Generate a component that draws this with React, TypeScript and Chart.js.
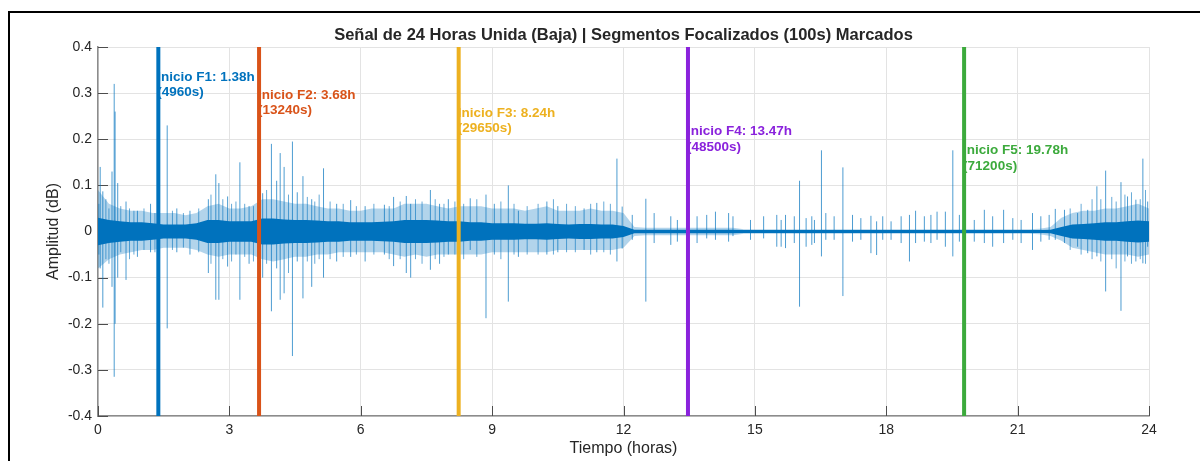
import { useEffect, useRef } from "react";
import { Chart, registerables } from "chart.js";

Chart.register(...registerables);

const FONT = "'Liberation Sans', Arial, Helvetica, sans-serif";
const TEXT_COLOR = "#262626";
const SIGNAL_COLOR = "#0072BD";

const TITLE = "Señal de 24 Horas Unida (Baja) | Segmentos Focalizados (100s) Marcados";
const X_TITLE = "Tiempo (horas)";
const Y_TITLE = "Amplitud (dB)";

// Envelope of the joined 24 h signal, one value every quarter hour (0 … 24 h)
const BAND_STEP_HOURS = 0.25;
const coreAmp = [
  0.030, 0.025, 0.022, 0.020, // 0 h
  0.020, 0.018, 0.015, 0.015, // 1 h
  0.015, 0.018, 0.025, 0.025, // 2 h
  0.022, 0.022, 0.022, 0.028, // 3 h
  0.028, 0.026, 0.025, 0.025, // 4 h
  0.024, 0.022, 0.022, 0.020, // 5 h
  0.020, 0.020, 0.021, 0.022, // 6 h
  0.025, 0.025, 0.025, 0.024, // 7 h
  0.022, 0.022, 0.020, 0.020, // 8 h
  0.018, 0.018, 0.018, 0.017, // 9 h
  0.017, 0.018, 0.016, 0.015, // 10 h
  0.016, 0.016, 0.015, 0.015, // 11 h
  0.012, 0.004, 0.004, 0.004, // 12 h
  0.004, 0.004, 0.004, 0.004, // 13 h
  0.004, 0.004, 0.004, 0.003, // 14 h
  0.003, 0.003, 0.003, 0.003, // 15 h
  0.003, 0.003, 0.003, 0.003, // 16 h
  0.003, 0.003, 0.003, 0.003, // 17 h
  0.003, 0.003, 0.003, 0.003, // 18 h
  0.003, 0.003, 0.003, 0.003, // 19 h
  0.003, 0.003, 0.003, 0.003, // 20 h
  0.003, 0.003, 0.003, 0.004, // 21 h
  0.010, 0.015, 0.016, 0.018, // 22 h
  0.020, 0.020, 0.022, 0.024, // 23 h
  0.022, // 24 h
];
const fringeHigh = [
  0.090, 0.060, 0.050, 0.045,
  0.045, 0.040, 0.040, 0.040,
  0.035, 0.040, 0.055, 0.060,
  0.050, 0.050, 0.055, 0.070,
  0.070, 0.065, 0.060, 0.060,
  0.055, 0.050, 0.050, 0.045,
  0.045, 0.050, 0.050, 0.050,
  0.060, 0.060, 0.060, 0.055,
  0.050, 0.055, 0.055, 0.055,
  0.050, 0.050, 0.050, 0.045,
  0.050, 0.055, 0.045, 0.045,
  0.045, 0.050, 0.045, 0.045,
  0.040, 0.010, 0.008, 0.008,
  0.008, 0.008, 0.008, 0.008,
  0.008, 0.008, 0.008, 0.005,
  0.005, 0.005, 0.005, 0.005,
  0.005, 0.005, 0.005, 0.005,
  0.005, 0.005, 0.005, 0.005,
  0.005, 0.005, 0.005, 0.005,
  0.005, 0.005, 0.005, 0.005,
  0.005, 0.005, 0.005, 0.005,
  0.005, 0.005, 0.006, 0.010,
  0.030, 0.040, 0.045, 0.045,
  0.050, 0.050, 0.055, 0.060,
  0.050,
];
const fringeLow = [
  -0.080, -0.060, -0.050, -0.045,
  -0.040, -0.040, -0.035, -0.035,
  -0.035, -0.040, -0.050, -0.055,
  -0.050, -0.050, -0.050, -0.060,
  -0.065, -0.060, -0.055, -0.055,
  -0.050, -0.050, -0.045, -0.045,
  -0.045, -0.045, -0.045, -0.050,
  -0.055, -0.050, -0.055, -0.050,
  -0.050, -0.050, -0.050, -0.050,
  -0.045, -0.045, -0.045, -0.045,
  -0.045, -0.045, -0.040, -0.040,
  -0.040, -0.040, -0.040, -0.040,
  -0.035, -0.010, -0.008, -0.008,
  -0.008, -0.008, -0.008, -0.008,
  -0.008, -0.008, -0.008, -0.005,
  -0.005, -0.005, -0.005, -0.005,
  -0.005, -0.005, -0.005, -0.005,
  -0.005, -0.005, -0.005, -0.005,
  -0.005, -0.005, -0.005, -0.005,
  -0.005, -0.005, -0.005, -0.005,
  -0.005, -0.005, -0.005, -0.005,
  -0.005, -0.005, -0.006, -0.010,
  -0.020, -0.035, -0.040, -0.045,
  -0.050, -0.050, -0.050, -0.055,
  -0.050,
];

// Isolated transients: time (h), positive peak, negative peak
const spikeHours = [
  0.05, 0.11, 0.32, 0.37, 0.39, 0.45, 0.64, 0.90, 1.20, 1.58,
  1.80, 2.10, 2.52, 2.69, 2.76, 2.96, 3.24, 3.45, 3.65, 3.76,
  3.96, 4.08, 4.16, 4.25, 4.44, 4.55, 4.68, 4.88, 5.15, 5.45,
  5.77, 6.10, 6.54, 6.75, 7.04, 7.14, 7.59, 7.80, 8.00, 8.50,
  8.86, 9.05, 9.37, 9.60, 10.25, 10.50, 11.10, 11.39, 11.85, 11.97,
  12.20, 12.51, 12.70, 13.08, 13.23, 13.68, 13.90, 14.10, 14.40, 14.50,
  14.90, 15.20, 15.50, 15.60, 15.70, 15.90, 16.02, 16.17, 16.30, 16.36,
  16.52, 16.62, 16.81, 17.01, 17.23, 17.42, 17.65, 17.78, 17.92, 18.11,
  18.34, 18.53, 18.67, 18.87, 19.02, 19.16, 19.35, 19.52, 19.67, 20.01,
  20.24, 20.43, 20.68, 20.89, 21.08, 21.34, 21.53, 21.72, 21.86, 22.07,
  22.37, 22.60, 22.81, 23.01, 23.36, 23.51, 23.70, 23.86, 23.97,
];
const spikeHigh = [
  0.140, 0.087, 0.130, 0.320, 0.260, 0.105, 0.065, 0.045, 0.060, 0.230,
  0.050, 0.045, 0.070, 0.124, 0.105, 0.076, 0.150, 0.055, 0.061, 0.083,
  0.190, 0.110, 0.170, 0.140, 0.195, 0.085, 0.120, 0.070, 0.137, 0.060,
  0.068, 0.055, 0.058, 0.075, 0.077, 0.060, 0.090, 0.060, 0.070, 0.072,
  0.080, 0.060, 0.100, 0.045, 0.065, 0.055, 0.050, 0.062, 0.158, 0.054,
  0.036, 0.071, 0.040, 0.033, 0.025, 0.033, 0.036, 0.043, 0.040, 0.033,
  0.025, 0.033, 0.036, 0.025, 0.036, 0.033, 0.110, 0.029, 0.033, 0.025,
  0.176, 0.040, 0.033, 0.139, 0.036, 0.029, 0.034, 0.022, 0.033, 0.022,
  0.033, 0.036, 0.045, 0.033, 0.036, 0.043, 0.043, 0.176, 0.036, 0.025,
  0.047, 0.033, 0.047, 0.029, 0.025, 0.040, 0.033, 0.036, 0.049, 0.047,
  0.040, 0.047, 0.098, 0.132, 0.107, 0.076, 0.069, 0.158, 0.065,
];
const spikeLow = [
  -0.080, -0.165, -0.120, -0.315, -0.200, -0.100, -0.105, -0.055, -0.045, -0.210,
  -0.045, -0.050, -0.090, -0.148, -0.148, -0.076, -0.148, -0.070, -0.060, -0.100,
  -0.173, -0.080, -0.148, -0.134, -0.270, -0.065, -0.145, -0.120, -0.100, -0.065,
  -0.055, -0.065, -0.050, -0.075, -0.090, -0.100, -0.083, -0.070, -0.050, -0.040,
  -0.188, -0.050, -0.152, -0.055, -0.050, -0.045, -0.040, -0.045, -0.065, -0.037,
  -0.018, -0.152, -0.025, -0.029, -0.022, -0.025, -0.015, -0.018, -0.022, -0.010,
  -0.018, -0.015, -0.033, -0.033, -0.036, -0.025, -0.163, -0.033, -0.029, -0.025,
  -0.054, -0.018, -0.018, -0.140, -0.022, -0.018, -0.047, -0.051, -0.018, -0.018,
  -0.025, -0.065, -0.025, -0.022, -0.025, -0.018, -0.033, -0.054, -0.022, -0.022,
  -0.025, -0.033, -0.025, -0.018, -0.025, -0.040, -0.022, -0.018, -0.018, -0.025,
  -0.033, -0.047, -0.054, -0.130, -0.172, -0.054, -0.065, -0.069, -0.033,
];

// Smaller bursts inside the busy stretches (0–12 h and 22–24 h)
const burstHours = [
  0.02, 0.18, 0.25, 0.52, 0.72, 0.82, 1.05, 1.30, 1.70, 1.95,
  2.30, 2.58, 2.85, 3.05, 3.15, 3.35, 3.55, 3.85, 4.35, 4.78,
  4.95, 5.05, 5.30, 5.60, 5.90, 6.30, 6.65, 6.90, 7.25, 7.40,
  7.70, 7.90, 8.15, 8.35, 8.65, 9.20, 9.50, 9.80, 10.05, 10.40,
  10.70, 10.90, 11.25, 11.55, 11.70, 22.20, 22.45, 22.70, 22.90, 23.15,
  23.25, 23.45, 23.60, 23.80, 23.92,
];
const burstHigh = [
  0.060, 0.070, 0.050, 0.055, 0.050, 0.045, 0.050, 0.040, 0.045, 0.040,
  0.050, 0.080, 0.070, 0.060, 0.065, 0.060, 0.055, 0.090, 0.080, 0.075,
  0.065, 0.080, 0.065, 0.060, 0.055, 0.060, 0.055, 0.065, 0.070, 0.065,
  0.070, 0.060, 0.065, 0.060, 0.070, 0.065, 0.060, 0.055, 0.060, 0.070,
  0.060, 0.055, 0.060, 0.065, 0.060, 0.050, 0.060, 0.070, 0.070, 0.075,
  0.065, 0.080, 0.085, 0.070, 0.090,
];
const burstLow = [
  -0.050, -0.060, -0.070, -0.045, -0.060, -0.050, -0.040, -0.045, -0.040, -0.035,
  -0.045, -0.070, -0.060, -0.065, -0.050, -0.055, -0.065, -0.070, -0.090, -0.065,
  -0.070, -0.060, -0.060, -0.055, -0.050, -0.050, -0.060, -0.060, -0.060, -0.070,
  -0.060, -0.055, -0.050, -0.060, -0.055, -0.060, -0.050, -0.050, -0.050, -0.050,
  -0.045, -0.045, -0.050, -0.045, -0.050, -0.040, -0.050, -0.060, -0.065, -0.060,
  -0.080, -0.065, -0.070, -0.060, -0.070,
];

// Start of each focused 100 s segment
const segmentNames = ["F1", "F2", "F3", "F4", "F5"];
const segmentSeconds = [4960, 13240, 29650, 48500, 71200];
const segmentColors = ["#0072BD", "#D95319", "#EDB120", "#8A22DC", "#3CAA3C"];
const segmentLabelY = [0.335, 0.296, 0.257, 0.217, 0.176];

const xTicks = [0, 3, 6, 9, 12, 15, 18, 21, 24];
const yTicks = [-0.4, -0.3, -0.2, -0.1, 0, 0.1, 0.2, 0.3, 0.4];

const bandPoints = (values: number[]) =>
  values.map((v, i) => ({ x: i * BAND_STEP_HOURS, y: v }));

const verticalStrokes = (hours: number[], high: number[], low: number[]) => {
  const pts: { x: number; y: number | null }[] = [];
  hours.forEach((h, i) => {
    pts.push({ x: h, y: low[i] });
    pts.push({ x: h, y: high[i] });
    pts.push({ x: h, y: null });
  });
  return pts;
};

const decorations = {
  id: "decorations",
  beforeDatasetsDraw(chart: any) {
    const { ctx, chartArea, scales } = chart;
    ctx.save();
    ctx.strokeStyle = "#4d4d4d";
    ctx.lineWidth = 1;
    ctx.beginPath();
    xTicks.forEach((t) => {
      const x = Math.round(scales.x.getPixelForValue(t)) + 0.5;
      ctx.moveTo(x, chartArea.bottom);
      ctx.lineTo(x, chartArea.bottom - 10);
    });
    yTicks.forEach((t) => {
      const y = Math.round(scales.y.getPixelForValue(t)) + 0.5;
      ctx.moveTo(chartArea.left, y);
      ctx.lineTo(chartArea.left + 10, y);
    });
    ctx.stroke();
    ctx.restore();
  },
  afterDatasetsDraw(chart: any) {
    const { ctx, scales } = chart;
    ctx.save();
    ctx.font = `bold 13.5px ${FONT}`;
    ctx.textAlign = "left";
    ctx.textBaseline = "middle";
    segmentSeconds.forEach((sec, i) => {
      const hours = sec / 3600;
      const x = scales.x.getPixelForValue(hours) - 1;
      const y = scales.y.getPixelForValue(segmentLabelY[i]);
      ctx.fillStyle = segmentColors[i];
      ctx.fillText(`Inicio ${segmentNames[i]}: ${hours.toFixed(2)}h`, x, y);
      ctx.fillText(`(${sec}s)`, x, y + 15.5);
    });
    ctx.restore();
  },
  afterDraw(chart: any) {
    const { ctx, chartArea } = chart;
    ctx.save();
    ctx.fillStyle = TEXT_COLOR;
    ctx.textAlign = "center";
    ctx.textBaseline = "middle";
    ctx.font = `bold 16.5px ${FONT}`;
    ctx.fillText(TITLE, (chartArea.left + chartArea.right) / 2, 35);
    ctx.font = `16px ${FONT}`;
    ctx.fillText(X_TITLE, (chartArea.left + chartArea.right) / 2, 449);
    ctx.translate(54, (chartArea.top + chartArea.bottom) / 2);
    ctx.rotate(-Math.PI / 2);
    ctx.fillText(Y_TITLE, 0, 0);
    ctx.restore();
    // figure frame on the left and top
    ctx.save();
    ctx.fillStyle = "#000";
    ctx.fillRect(8, 11, 1192, 2);
    ctx.fillRect(8, 11, 2, 450);
    ctx.restore();
  },
};

export default function App() {
  const ref = useRef<HTMLCanvasElement | null>(null);

  useEffect(() => {
    if (!ref.current) return;
    const datasets: any[] = [];
    segmentSeconds.forEach((sec, i) => {
      datasets.push({
        data: [
          { x: sec / 3600, y: -0.4 },
          { x: sec / 3600, y: 0.4 },
        ],
        borderColor: segmentColors[i],
        borderWidth: 4,
        pointRadius: 0,
        fill: false,
        order: 0,
      });
    });
    const base = datasets.length;
    datasets.push({
      data: bandPoints(fringeHigh),
      borderWidth: 0,
      pointRadius: 0,
      fill: false,
      order: 7,
    });
    datasets.push({
      data: bandPoints(fringeLow),
      borderWidth: 0,
      pointRadius: 0,
      fill: base,
      backgroundColor: "rgba(0,114,189,0.3)",
      order: 6,
    });
    datasets.push({
      data: verticalStrokes(spikeHours, spikeHigh, spikeLow),
      borderColor: "rgba(0,114,189,0.7)",
      borderWidth: 1,
      pointRadius: 0,
      fill: false,
      spanGaps: false,
      order: 4,
    });
    datasets.push({
      data: verticalStrokes(burstHours, burstHigh, burstLow),
      borderColor: "rgba(0,114,189,0.6)",
      borderWidth: 1,
      pointRadius: 0,
      fill: false,
      spanGaps: false,
      order: 5,
    });
    datasets.push({
      data: bandPoints(coreAmp),
      borderWidth: 0,
      pointRadius: 0,
      fill: false,
      order: 3,
    });
    datasets.push({
      data: bandPoints(coreAmp.map((v) => -v)),
      borderWidth: 0,
      pointRadius: 0,
      fill: base + 4,
      backgroundColor: SIGNAL_COLOR,
      order: 2,
    });

    const chart = new Chart(ref.current, {
      type: "line",
      data: { datasets },
      plugins: [decorations],
      options: {
        animation: false,
        responsive: false,
        devicePixelRatio: 1,
        layout: { padding: { top: 47, right: 51, left: 0, bottom: 0 } },
        plugins: {
          legend: { display: false },
          tooltip: { enabled: false },
          title: { display: false },
        },
        elements: { line: { tension: 0 }, point: { radius: 0 } },
        scales: {
          x: {
            type: "linear",
            min: 0,
            max: 24,
            afterBuildTicks: (s: any) => {
              s.ticks = xTicks.map((v) => ({ value: v }));
            },
            ticks: {
              font: { family: FONT, size: 14 },
              color: TEXT_COLOR,
              padding: 6,
              maxRotation: 0,
              autoSkip: false,
            },
            grid: { color: "#e3e3e3", drawTicks: false },
            border: { color: "#8c8c8c", width: 1.5 },
            afterFit: (s: any) => {
              s.height = 45;
            },
          },
          y: {
            type: "linear",
            min: -0.4,
            max: 0.4,
            afterBuildTicks: (s: any) => {
              s.ticks = yTicks.map((v) => ({ value: v }));
            },
            ticks: {
              font: { family: FONT, size: 14 },
              color: TEXT_COLOR,
              padding: 6,
              autoSkip: false,
              callback: (v: any) => String(Number(Number(v).toFixed(1))),
            },
            grid: { color: "#e3e3e3", drawTicks: false },
            border: { color: "#8c8c8c", width: 1.5 },
            afterFit: (s: any) => {
              s.width = 98;
            },
          },
        },
      } as any,
    });
    return () => chart.destroy();
  }, []);

  return (
    <div style={{ position: "absolute", left: 0, top: 0, width: 1200, height: 461, background: "#fff" }}>
      <canvas ref={ref} width={1200} height={461} style={{ display: "block" }} />
    </div>
  );
}
